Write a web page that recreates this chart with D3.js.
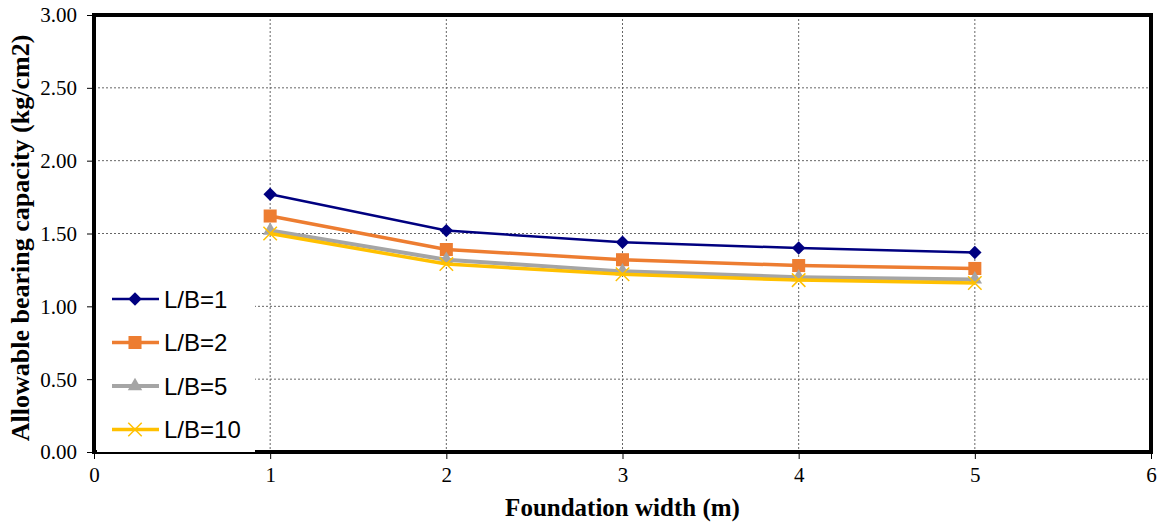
<!DOCTYPE html>
<html><head><meta charset="utf-8">
<script src="https://cdn.jsdelivr.net/npm/d3@7/dist/d3.min.js"></script>
<style>body{margin:0;background:#fff}svg{display:block}</style>
</head><body>
<svg id="c" width="1165" height="526"></svg>
<script>
const widths = [1, 2, 3, 4, 5];
const lb1 = [1.77, 1.52, 1.44, 1.40, 1.37];
const lb2 = [1.62, 1.39, 1.32, 1.28, 1.26];
const lb5 = [1.52, 1.32, 1.24, 1.20, 1.185];
const lb10 = [1.50, 1.29, 1.22, 1.18, 1.16];
const seriesNames = ["L/B=1", "L/B=2", "L/B=5", "L/B=10"];
const xTicks = [0, 1, 2, 3, 4, 5, 6];
const yTicks = [0, 0.5, 1, 1.5, 2, 2.5, 3];

const wideDiamond = {
  draw(ctx, size) {
    const r = Math.sqrt(size / 2);
    ctx.moveTo(0, -r); ctx.lineTo(r, 0); ctx.lineTo(0, r); ctx.lineTo(-r, 0); ctx.closePath();
  }
};

const series = [
  {name: seriesNames[0], vals: lb1, color: "#000080", w: 2.5, sym: wideDiamond, size: 90},
  {name: seriesNames[1], vals: lb2, color: "#ED7D31", w: 3.5, sym: d3.symbolSquare, size: 170},
  {name: seriesNames[2], vals: lb5, color: "#A5A5A5", w: 4, sym: d3.symbolTriangle, size: 90},
  {name: seriesNames[3], vals: lb10, color: "#FFC000", w: 3.5, sym: d3.symbolX, size: 120}
];

const svg = d3.select("#c");
const L = 94, R = 1151, T = 15, B = 452;
const x = d3.scaleLinear().domain([0, 6]).range([L, R]);
const y = d3.scaleLinear().domain([0, 3]).range([B, T]);

// grid
svg.append("g").selectAll("line").data(xTicks.slice(1, -1)).join("line")
  .attr("x1", d => x(d)).attr("x2", d => x(d)).attr("y1", T).attr("y2", B)
  .attr("stroke", "#666").attr("stroke-width", 1).attr("stroke-dasharray", "2,2");
svg.append("g").selectAll("line").data(yTicks.slice(1, -1)).join("line")
  .attr("x1", L).attr("x2", R).attr("y1", d => y(d)).attr("y2", d => y(d))
  .attr("stroke", "#666").attr("stroke-width", 1).attr("stroke-dasharray", "2,2");

// axes
const ya = svg.append("g").attr("transform", `translate(${L},0)`)
  .call(d3.axisLeft(y).tickValues(yTicks).tickFormat(d3.format(".2f")).tickSize(7).tickSizeOuter(0));
const xa = svg.append("g").attr("transform", `translate(0,${B})`)
  .call(d3.axisBottom(x).tickValues(xTicks).tickFormat(d3.format("d")).tickSize(7).tickSizeOuter(0));
[ya, xa].forEach(a => {
  a.select(".domain").remove();
  a.selectAll("line").attr("stroke", "#000").attr("stroke-width", 1);
  a.selectAll("text").attr("font-family", "Liberation Serif, Times New Roman, serif")
    .attr("font-size", 21).attr("fill", "#000");
});
ya.selectAll("text").attr("x", -17).attr("dy", "0.33em");
xa.selectAll("text").attr("y", 15).attr("dy", "0.71em");

// plot border
svg.append("rect").attr("x", L).attr("y", T).attr("width", R - L).attr("height", B - T)
  .attr("fill", "none").attr("stroke", "#000").attr("stroke-width", 4);

// series
const line = d3.line().x((d, i) => x(widths[i])).y(d => y(d));
series.forEach(s => {
  svg.append("path").datum(s.vals).attr("d", line)
    .attr("fill", "none").attr("stroke", s.color).attr("stroke-width", s.w);
  const g = svg.append("g");
  g.selectAll("path").data(s.vals).join("path")
    .attr("transform", (d, i) => `translate(${x(widths[i])},${y(d)})`)
    .attr("d", d3.symbol(s.sym, s.size))
    .attr("fill", s.sym === d3.symbolX ? "none" : s.color)
    .attr("stroke", s.sym === d3.symbolX ? s.color : "none")
    .attr("stroke-width", 1.5);
});

// legend
svg.append("rect").attr("x", 97).attr("y", 280).attr("width", 158).attr("height", 172).attr("fill", "#fff");
const lg = svg.append("g");
series.forEach((s, i) => {
  const yy = 299 + i * 43.5;
  lg.append("line").attr("x1", 112).attr("x2", 159).attr("y1", yy).attr("y2", yy)
    .attr("stroke", s.color).attr("stroke-width", s.w);
  lg.append("path").attr("transform", `translate(135,${yy})`)
    .attr("d", d3.symbol(s.sym, s.size))
    .attr("fill", s.sym === d3.symbolX ? "none" : s.color)
    .attr("stroke", s.sym === d3.symbolX ? s.color : "none").attr("stroke-width", 1.5);
  lg.append("text").attr("x", 164).attr("y", yy).attr("dy", "0.36em")
    .attr("font-family", "Liberation Sans, Arial, sans-serif").attr("font-size", 24)
    .attr("fill", "#000").text(s.name);
});

// axis titles
svg.append("text").attr("x", x(3)).attr("y", 516).attr("text-anchor", "middle")
  .attr("font-family", "Liberation Serif, Times New Roman, serif").attr("font-weight", "bold")
  .attr("font-size", 25).text("Foundation width (m)");
svg.append("text").attr("transform", "translate(29,238) rotate(-90)").attr("text-anchor", "middle")
  .attr("font-family", "Liberation Serif, Times New Roman, serif").attr("font-weight", "bold")
  .attr("font-size", 26).text("Allowable bearing capacity (kg/cm2)");
</script>
</body></html>
